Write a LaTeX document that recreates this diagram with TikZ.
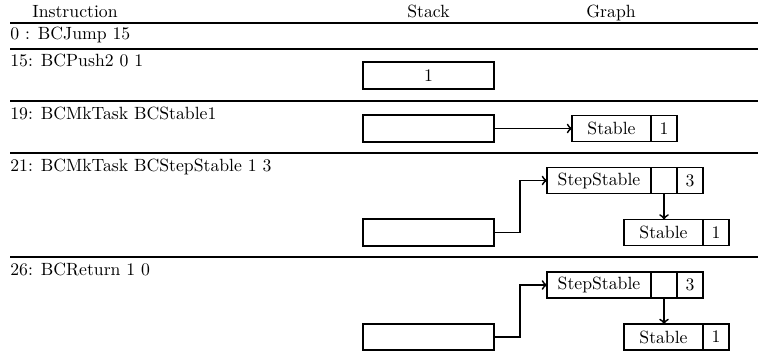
\documentclass[tikz,border=0pt]{standalone}
\usepackage{amsmath}
\usepackage{tikz}
\usetikzlibrary{positioning}

\begin{document}
\begin{tikzpicture}[x=0.565pt,y=-0.565pt,
  rule/.style={line width=1.2pt},
  stackcell/.style={draw,line width=1pt,minimum width=74pt,minimum height=15pt,inner sep=0pt,outer sep=0pt},
  namecell/.style={draw,line width=1pt,minimum height=14.7pt,inner sep=0pt,outer sep=0pt},
  argcell/.style={draw,line width=1pt,minimum width=14.7pt,minimum height=14.7pt,inner sep=0pt,outer sep=0pt},
  link/.style={line width=1pt,->}]
 \useasboundingbox (0,0) rectangle (758,353);

 % header and row rules
 \node (hinstr) at (75,18) [anchor=base] {Instruction};
 \node (hstack) at (428.5,18) [anchor=base] {Stack};
 \node (hgraph) at (611,18) [anchor=base] {Graph};
 \foreach \y in {23,49,101,153,257}
   \draw[rule] (10,\y) -- (758,\y);

 % instructions
 \node (i0)  at (10,40)  [anchor=base west,inner sep=0pt] {0 : BCJump 15};
 \node (i15) at (10,67)  [anchor=base west,inner sep=0pt] {15: BCPush2 0 1};
 \node (i19) at (10,119) [anchor=base west,inner sep=0pt] {19: BCMkTask BCStable1};
 \node (i21) at (10,171) [anchor=base west,inner sep=0pt] {21: BCMkTask BCStepStable 1 3};
 \node (i26) at (10,275) [anchor=base west,inner sep=0pt] {26: BCReturn 1 0};

 % stack
 \node[stackcell] (s15) at (428.5,75.5) {1};
 \node[stackcell] (s19) at (428.5,128.5) {};
 \node[stackcell] (s21) at (428.5,232.5) {};
 \node[stackcell] (s26) at (428.5,337) {};

 % graph after 19
 \node[namecell,minimum width=44.6pt] (g19) at (611.5,128.5) {Stable};
 \node[argcell,right=0pt of g19] (g19a) {1};
 \draw[link] (s19.east) -- (g19.west);

 % graph after 21 and 26
 \foreach \n/\y in {21/180.5,26/285}
   {\node[namecell,minimum width=58.8pt] (t\n) at (599,\y) {StepStable};
    \node[argcell,right=0pt of t\n] (t\n p) {};
    \node[argcell,right=0pt of t\n p] (t\n a) {3};
    \node[namecell,minimum width=44.6pt] (c\n) at (663.5,\y+52) {Stable};
    \node[argcell,right=0pt of c\n] (c\n a) {1};
    \draw[link] (s\n.east) -- ++(26,0) |- (t\n.west);
    \draw[link] (t\n p.south) -- (t\n p.south |- c\n.north);}
\end{tikzpicture}
\end{document}
